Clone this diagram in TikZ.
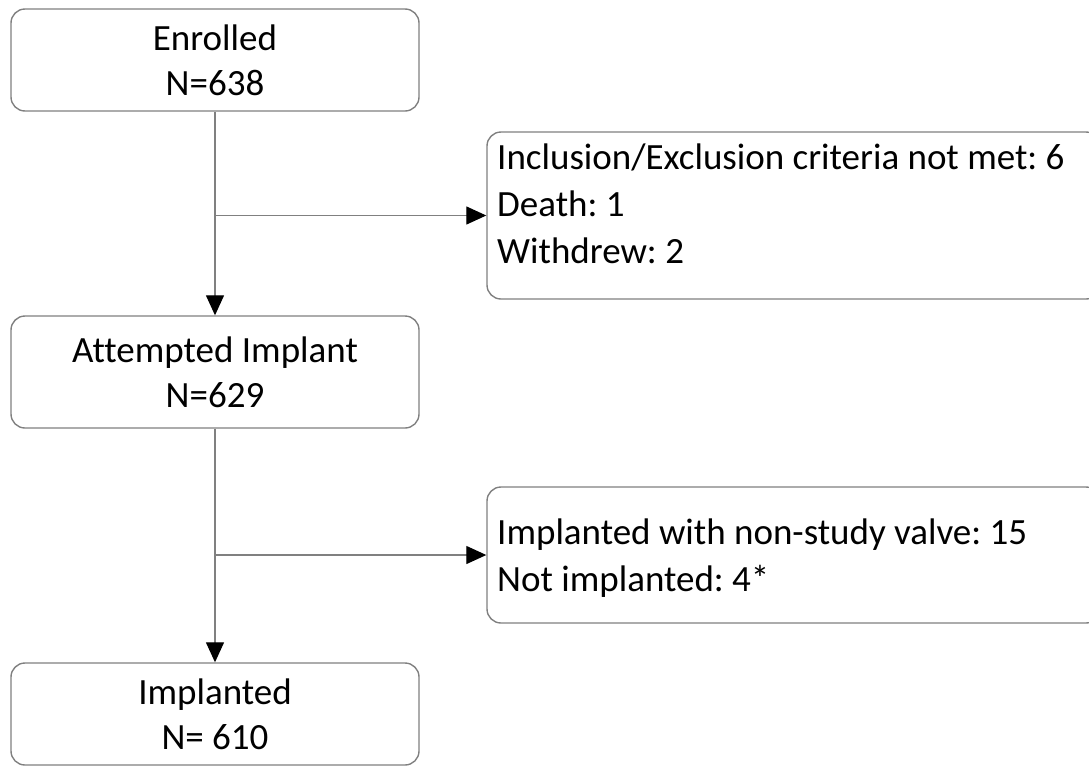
\documentclass[tikz,border=0pt]{standalone}
\usepackage{fontspec}
\setmainfont{Carlito}[Ligatures=CommonOff]
\usetikzlibrary{arrows.meta}
\usetikzlibrary{positioning}
\frenchspacing

\definecolor{edgegray}{RGB}{128,128,128}

\begin{document}
\begin{tikzpicture}[x=1pt,y=-1pt,
    box/.style={draw=edgegray, line width=1.4pt, rounded corners=14pt,
        minimum width=408pt, align=center, inner sep=0pt,
        font=\fontsize{37}{45}\selectfont},
    sidebox/.style={draw=edgegray, line width=1.4pt, rounded corners=14pt,
        minimum width=613pt, inner sep=0pt},
    sidetext/.style={anchor=north west, align=left, inner sep=0pt,
        font=\fontsize{37}{47}\selectfont},
    flow/.style={draw=edgegray, line width=1.3pt,
        -{Triangle[length=20pt,width=18pt,color=black]}}]
        %% page
        \useasboundingbox (0,0) rectangle (1089,766);

        %% main column
        \node[box, minimum height=102pt] (enrolled) at (215,60) {Enrolled\\N=638};
        \node[box, minimum height=112pt] (attempted) at (215,372) {Attempted Implant\\N=629};
        \node[box, minimum height=102pt] (implanted) at (215,714) {Implanted\\N= 610};

        %% side boxes
        \node[sidebox, minimum height=167pt] (notmet) at (793.5,215.5) {};
        \node[sidebox, minimum height=136pt] (nonstudy) at (793.5,555) {};

        %% side texts
        \node[sidetext] (notmettext) at (497,144)
            {Inclusion/Exclusion criteria not met: 6\\Death: 1\\Withdrew: 2};
        \node[sidetext] (nonstudytext) at (497,519)
            {Implanted with non-study valve: 15\\Not implanted: 4*};

        %% arrows
        \draw[flow] (enrolled) -- (attempted);
        \draw[flow] (attempted) -- (implanted);
        \draw[flow] (enrolled.south |- notmet.west) -- (notmet.west);
        \draw[flow] (attempted.south |- nonstudy.west) -- (nonstudy.west);
    \end{tikzpicture}
\end{document}
